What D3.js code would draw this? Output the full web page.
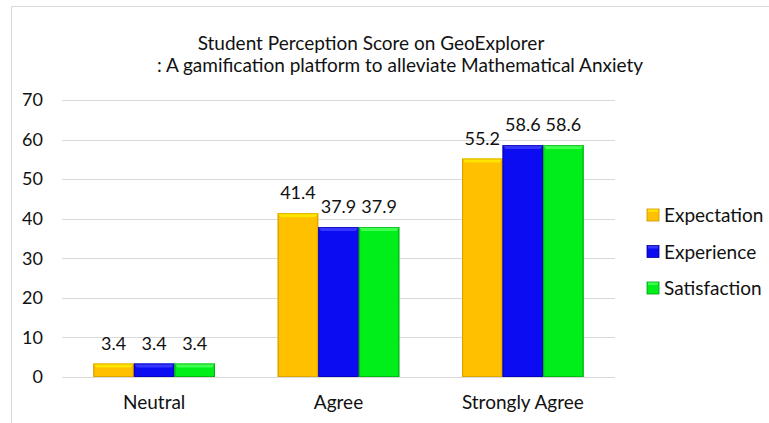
<!DOCTYPE html>
<html>
<head>
<meta charset="UTF-8">
<title>Student Perception Score on GeoExplorer</title>
<style>
  body { margin: 0; background: #fff; }
  text { font-family: Lato, "Open Sans", sans-serif; fill: #111; }
</style>
</head>
<body>
<script src="https://cdnjs.cloudflare.com/ajax/libs/d3/7.8.5/d3.min.js"></script>
<script>
// data
var categories = ["Neutral", "Agree", "Strongly Agree"];
var seriesNames = ["Expectation", "Experience", "Satisfaction"];
var expectation = [3.4, 41.4, 55.2];
var experience = [3.4, 37.9, 58.6];
var satisfaction = [3.4, 37.9, 58.6];
var yTicks = [0, 10, 20, 30, 40, 50, 60, 70];
var titleLines = ["Student Perception Score on GeoExplorer", ": A gamification platform to alleviate Mathematical Anxiety"];

var seriesValues = [expectation, experience, satisfaction];
// base, light top, dark edge
var colors = [
  ["#FFC000", "#FFE400", "#C89400"],
  ["#0C0CF2", "#3636FF", "#00009A"],
  ["#00EE1A", "#40FF50", "#009A10"]
];

var W = 769, H = 423;
var svg = d3.select("body").append("svg")
  .attr("width", W)
  .attr("height", H);

// gradients for bevel look
var defs = svg.append("defs");
colors.forEach((c, i) => {
  var gr = defs.append("linearGradient").attr("id", "side" + i)
    .attr("x1", 0).attr("x2", 1).attr("y1", 0).attr("y2", 0);
  gr.append("stop").attr("offset", "0").attr("stop-color", c[2]).attr("stop-opacity", 0.5);
  gr.append("stop").attr("offset", "0.06").attr("stop-color", c[0]).attr("stop-opacity", 0);
  gr.append("stop").attr("offset", "0.94").attr("stop-color", c[0]).attr("stop-opacity", 0);
  gr.append("stop").attr("offset", "1").attr("stop-color", c[2]).attr("stop-opacity", 0.5);
});

// chart frame
svg.append("rect")
  .attr("x", 11.5).attr("y", 6.5)
  .attr("width", W + 10).attr("height", H + 10)
  .attr("fill", "#fff")
  .attr("stroke", "#D9D9D9");

// title
var titleX = [371, 400];
svg.selectAll(".title")
  .data(titleLines)
  .enter()
  .append("text")
  .attr("class", "title")
  .attr("x", (d, i) => titleX[i])
  .attr("y", (d, i) => 50 + i * 22)
  .attr("text-anchor", "middle")
  .style("font-size", "19px")
  .text(d => d);

//variables
var plotLeft = 62, plotRight = 615, plotTop = 100, plotBottom = 377;

var x0 = d3.scaleBand().domain(categories).range([plotLeft, plotRight]);
var groupW = x0.bandwidth() * 0.66;
var x1 = d3.scaleBand().domain(seriesNames).range([0, groupW]);
var y = d3.scaleLinear().domain([0, 70]).range([plotBottom, plotTop]);

// grid
svg.selectAll(".grid")
  .data(yTicks)
  .enter()
  .append("line")
  .attr("x1", plotLeft).attr("x2", plotRight)
  .attr("y1", d => Math.round(y(d)) + 0.5)
  .attr("y2", d => Math.round(y(d)) + 0.5)
  .attr("stroke", "#D9D9D9")
  .attr("stroke-width", 1.2);

// y axis labels
var yAxis = d3.axisLeft(y).tickValues(yTicks).tickSize(0).tickPadding(0);
var gy = svg.append("g").attr("transform", "translate(43,0)").call(yAxis);
gy.select(".domain").remove();
gy.selectAll("text").style("font-size", "18px").style("font-family", "Lato, sans-serif").attr("fill", "#111");

// x axis labels
var xAxis = d3.axisBottom(x0).tickSize(0).tickPadding(0);
var gx = svg.append("g").attr("transform", "translate(0,395)").call(xAxis);
gx.select(".domain").remove();
gx.selectAll("text").style("font-size", "19px").style("font-family", "Lato, sans-serif").attr("fill", "#111");

// bars
var groups = svg.selectAll(".grp")
  .data(categories)
  .enter()
  .append("g")
  .attr("transform", d => `translate(${x0(d) + (x0.bandwidth() - groupW) / 2},0)`);

groups.each(function(cat, ci) {
  var g = d3.select(this);
  seriesNames.forEach((s, si) => {
    var v = seriesValues[si][ci];
    var bx = x1(s), bw = x1.bandwidth();
    var by = y(v), bh = y(0) - y(v);
    var c = colors[si];
    g.append("rect")
      .attr("x", bx).attr("y", by)
      .attr("width", bw).attr("height", bh)
      .attr("fill", c[0]);
    g.append("rect")
      .attr("x", bx).attr("y", by)
      .attr("width", bw).attr("height", bh)
      .attr("fill", "url(#side" + si + ")");
    // bevel top
    var bt = Math.min(4, bh / 2);
    g.append("path")
      .attr("d", `M${bx},${by}H${bx + bw}L${bx + bw - 3},${by + bt}H${bx + 3}Z`)
      .attr("fill", c[1]);
    // edge
    g.append("rect")
      .attr("x", bx + 0.5).attr("y", by + 0.5)
      .attr("width", bw - 1).attr("height", bh - 1)
      .attr("fill", "none")
      .attr("stroke", c[2])
      .attr("stroke-opacity", 0.6)
      .attr("stroke-width", 1);
    g.append("text")
      .attr("x", bx + bw / 2)
      .attr("y", by - 14)
      .attr("text-anchor", "middle")
      .style("font-size", "18px")
      .text(v.toFixed(1));
  });
});

// legend
var legend = svg.selectAll(".legend")
  .data(seriesNames)
  .enter()
  .append("g")
  .attr("transform", (d, i) => `translate(647,${215 + i * 36.5})`);

legend.append("rect")
  .attr("x", 0).attr("y", -6)
  .attr("width", 12).attr("height", 12)
  .attr("fill", (d, i) => colors[i][0])
  .attr("stroke", (d, i) => colors[i][2])
  .attr("stroke-width", 0.8);
legend.append("rect")
  .attr("x", 1).attr("y", -5.5)
  .attr("width", 10).attr("height", 2.5)
  .attr("fill", (d, i) => colors[i][1]);
legend.append("text")
  .attr("x", 17).attr("y", 7)
  .style("font-size", "19px")
  .text(d => d);
</script>
</body>
</html>
